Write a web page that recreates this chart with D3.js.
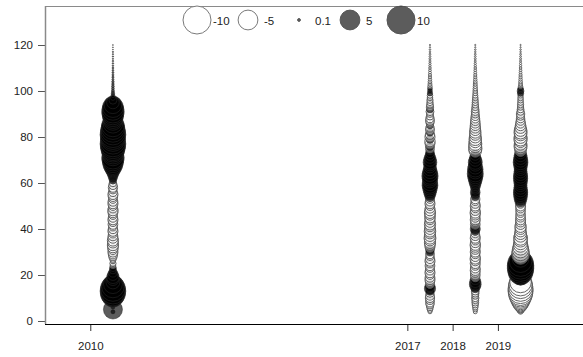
<!DOCTYPE html>
<html>
<head>
<meta charset="utf-8">
<script src="https://cdn.jsdelivr.net/npm/d3@7"></script>
<style>
  body { margin: 0; background: #fff; }
  svg { display: block; }
  text { font-family: "Liberation Sans", Arial, sans-serif; }
</style>
</head>
<body>
<svg id="chart" width="583" height="357"></svg>
<script>
// Sampling years (one column of bubbles per year) and axis ticks
const years = [2010, 2017, 2018, 2019];
const yearTicks = [2010, 2017, 2018, 2019];
const depthTicks = [0, 20, 40, 60, 80, 100, 120];

// Depth levels sampled in every column: 4, 5, ..., 120
const depthFirst = 4;
const depthLast = 120;

// Anomaly at each depth level (first value = depth 4), one array per year
const anom2010 = [
  0.2, 4.6, 0.2, 0.3, 0.4, 1.5, 4.0, 6.5, 8.0, 8.5,
  8.0, 6.5, 4.5, 2.5, 1.8, 2.0, 1.5, 1.0, 0.6, 0.6,
  -0.4, -0.5, -0.3, -0.6, -0.9, -1.1, -1.3, -1.2, -1.5, -1.6,
  -1.4, -1.6, -1.3, -1.2, -1.0, -1.3, -1.1, -0.9, -1.2, -1.0,
  -1.3, -1.1, -0.9, -1.2, -1.4, -1.1, -1.0, -1.3, -1.2, -0.9,
  -1.1, -1.3, -1.0, -0.8, -1.1, -0.9, -0.7, 0.6, 0.9, 1.2,
  1.6, 2.2, 3.0, 4.0, 5.0, 5.5, 6.0, 6.5, 5.5, 6.0,
  6.5, 7.5, 8.0, 8.5, 8.0, 7.5, 8.0, 8.5, 8.0, 7.5,
  7.0, 6.5, 5.0, 4.5, 5.0, 5.5, 6.0, 6.5, 6.0, 5.5,
  4.0, 2.0, 0.8, 0.3, 0.2, 0.15, 0.12, 0.1, 0.1, 0.08,
  0.08, 0.06, 0.06, 0.05, 0.05, 0.04, 0.04, 0.03, 0.03, 0.03,
  0.02, 0.02, 0.02, 0.02, 0.01, 0.01, 0.01
];
const anom2017 = [
  -0.2, -0.4, -0.6, -0.8, -1.0, -0.9, -1.1, -1.0, -0.8, 0.9,
  1.6, 1.3, -0.9, -1.1, -1.3, -1.2, -1.0, -1.3, -1.1, -0.9,
  -1.2, -1.0, -1.3, -1.1, -0.8, -1.0, 0.8, 1.0, -1.2, -1.4,
  -1.6, -1.5, -1.8, -1.6, -1.4, -1.7, -1.5, -1.3, -1.6, -1.4,
  -1.2, -1.5, -1.3, -1.6, -1.4, -1.2, -1.0, -1.3, -1.1, -0.9,
  1.2, 1.6, 2.0, 2.4, 2.8, 3.2, 3.0, 2.6, 3.0, 3.4,
  3.0, 2.6, 2.2, 1.8, 2.0, 2.4, 2.0, 1.6, 1.2, 1.0,
  0.8, -1.0, 0.9, -1.2, -1.4, 0.8, -1.3, -1.1, 0.7, -1.0,
  -0.9, 0.6, -0.8, -1.0, -0.9, -0.7, -0.6, -0.8, 0.6, -0.7,
  -0.6, -0.5, -0.5, -0.4, -0.4, 0.35, 0.3, 0.3, -0.25, -0.2,
  -0.18, -0.15, -0.13, -0.12, -0.1, -0.09, -0.08, -0.07, -0.06, -0.05,
  -0.05, -0.04, -0.04, -0.03, -0.03, -0.02, -0.02
];
const anom2018 = [
  -0.2, -0.3, -0.4, -0.5, -0.6, -0.6, -0.7, -0.6, -0.7, -0.8,
  0.8, 1.4, 1.8, 1.6, 1.2, -1.0, -1.2, -1.1, -1.3, -1.2,
  -1.0, -1.3, -1.1, -1.4, -1.2, -1.0, -1.3, -1.1, -1.2, -1.4,
  -1.2, -1.0, -1.3, -1.1, -0.9, 0.9, 1.3, 1.0, -1.2, -1.0,
  -1.3, -1.1, -1.2, -1.4, -1.2, -1.0, -1.3, -1.1, -0.9, -1.1,
  0.8, 1.0, 1.2, 0.9, 1.1, 1.4, 1.8, 2.2, 2.6, 3.0,
  3.3, 2.8, 3.1, 2.6, 2.2, 2.5, 2.0, 1.6, 1.2, 0.9,
  -2.0, -2.3, -2.1, -2.2, -1.9, -2.0, -1.8, -1.6, -1.7, -1.5,
  -1.4, -1.3, -1.2, -1.1, -1.0, -0.9, -0.8, -0.8, -0.7, -0.6,
  -0.55, -0.5, -0.45, -0.4, -0.35, -0.3, -0.28, -0.25, -0.22, -0.2,
  -0.18, -0.15, -0.13, -0.12, -0.1, -0.09, -0.08, -0.07, -0.06, -0.05,
  -0.05, -0.04, -0.04, -0.03, -0.03, -0.02, -0.02
];
const anom2019 = [
  -0.3, -0.8, -1.5, -2.5, -3.5, -4.5, -5.5, -6.5, -7.5, -8.0,
  -8.0, -7.5, -7.0, -6.0, 1.5, 3.0, 5.0, 7.5, 8.5, 9.0,
  9.0, 8.5, 6.5, 3.5, -3.0, -4.0, -3.8, -3.4, -3.0, -2.6,
  -2.4, -2.2, -2.5, -2.0, -1.8, -1.6, -1.5, -1.7, -1.3, -1.2,
  -1.3, -1.1, -1.2, -1.0, -1.2, -1.1, -1.3, -1.0, 1.6, 2.0,
  2.3, 2.5, 2.6, 2.4, 2.2, 2.0, 2.2, 2.4, 2.6, 2.5,
  2.3, 2.1, 2.0, 2.2, 2.5, 2.8, 2.6, 2.3, 2.0, 1.6,
  -1.6, -1.9, -2.2, -2.0, -1.8, -2.3, -2.1, -1.9, -2.2, -2.0,
  -1.6, -1.4, -1.2, -1.0, -0.9, -0.8, -0.9, -0.7, -0.6, -0.5,
  -0.5, -0.45, -0.4, -0.4, -0.35, 0.5, 0.6, 0.4, -0.25, -0.2,
  -0.18, -0.15, -0.13, -0.12, -0.1, -0.09, -0.08, -0.07, -0.06, -0.05,
  -0.05, -0.04, -0.04, -0.03, -0.03, -0.02, -0.02
];
const anomalies = [anom2010, anom2017, anom2018, anom2019];

// Legend entries
const legendValues = [-10, -5, 0.1, 5, 10];
const legendLabels = ["-10", "-5", "0.1", "5", "10"];

const svg = d3.select("#chart");
const frame = { left: 45, top: 6, bottom: 324, right: 583 };

const x = d3.scaleLinear().domain([2009, 2021]).range([45, 588.5]);
const y = d3.scaleLinear().domain([0, 120]).range([321, 45]);
const r = d3.scaleSqrt().domain([0, 10]).range([0, 14]);

const depths = d3.range(depthFirst, depthLast + 1);
const points = [];
years.forEach((yr, i) => {
  anomalies[i].forEach((v, j) => points.push({ year: yr, depth: depths[j], value: v }));
});

function styleBubble(sel) {
  sel.attr("fill", d => d.value < 0 ? "#ffffff" : "#000000")
     .attr("fill-opacity", d => d.value < 0 ? 0.35 : 0.64)
     .attr("stroke", d => d.value < 0 ? "#555555" : "#2a2a2a")
     .attr("stroke-opacity", d => d.value < 0 ? 0.9 : 0.55)
     .attr("stroke-width", 1);
}

// Plot frame: grey top edge
svg.append("line")
  .attr("x1", frame.left).attr("x2", frame.right)
  .attr("y1", frame.top + 0.5).attr("y2", frame.top + 0.5)
  .attr("stroke", "#8a8a8a").attr("stroke-width", 1.2);

// Bubbles, one column per year, half a year right of the tick
svg.append("g").selectAll("circle").data(points).join("circle")
  .attr("cx", d => x(d.year + 0.5))
  .attr("cy", d => y(d.depth))
  .attr("r", d => r(Math.abs(d.value)))
  .call(styleBubble);

// Y axis
const yAxis = svg.append("g")
  .attr("transform", `translate(${frame.left},0)`)
  .call(d3.axisLeft(y).tickValues(depthTicks).tickSize(7).tickPadding(5).tickSizeOuter(0));
yAxis.select(".domain").remove();
yAxis.append("line")
  .attr("x1", 0.5).attr("x2", 0.5)
  .attr("y1", frame.top).attr("y2", frame.bottom)
  .attr("stroke", "#8a8a8a").attr("stroke-width", 1.5);
yAxis.selectAll(".tick line").attr("stroke", "#555");
yAxis.selectAll(".tick text").attr("fill", "#222").attr("font-size", 11.5)
  .attr("font-family", "'Liberation Sans', Arial, sans-serif");

// X axis
const xAxis = svg.append("g")
  .attr("transform", `translate(0,${frame.bottom})`)
  .call(d3.axisBottom(x).tickValues(yearTicks).tickFormat(d3.format("d"))
    .tickSize(7).tickPadding(11).tickSizeOuter(0));
xAxis.select(".domain").remove();
xAxis.append("line")
  .attr("x1", frame.left).attr("x2", frame.right)
  .attr("y1", 0.5).attr("y2", 0.5)
  .attr("stroke", "#000").attr("stroke-width", 1.2);
xAxis.selectAll(".tick line").attr("stroke", "#333");
xAxis.selectAll(".tick text").attr("fill", "#222").attr("font-size", 11.5)
  .attr("font-family", "'Liberation Sans', Arial, sans-serif");

// Legend across the top
const lx = d3.scalePoint().domain(legendValues).range([197, 401]);
const legend = svg.append("g");
const items = legend.selectAll("g").data(legendValues.map((v, i) => ({ value: v, label: legendLabels[i] })))
  .join("g").attr("transform", d => `translate(${lx(d.value)},20)`);
items.append("circle")
  .attr("r", d => r(Math.abs(d.value)))
  .attr("fill", d => d.value < 0 ? "#ffffff" : "#000000")
  .attr("fill-opacity", d => d.value < 0 ? 1 : 0.64)
  .attr("stroke", d => d.value < 0 ? "#7a7a7a" : "#555")
  .attr("stroke-width", 1);
items.append("text")
  .attr("x", 16).attr("y", 4.5)
  .attr("font-size", 11.5).attr("fill", "#222")
  .text(d => d.label);
</script>
</body>
</html>
